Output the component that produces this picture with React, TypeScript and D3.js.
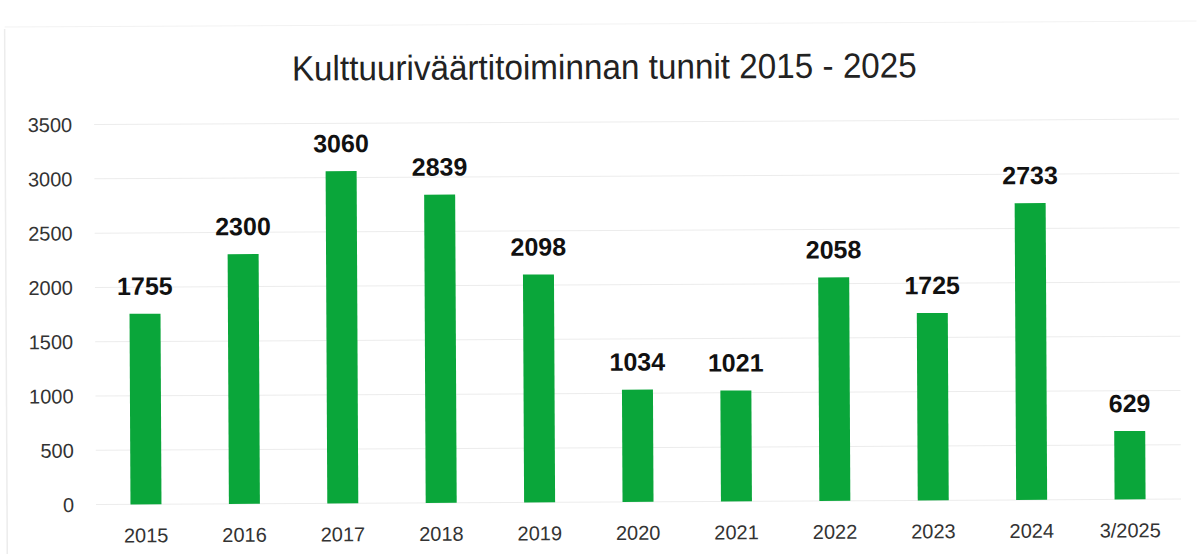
import React from "react";
import * as d3 from "d3";

const categories = ["2015", "2016", "2017", "2018", "2019", "2020", "2021", "2022", "2023", "2024", "3/2025"];
const values = [1755, 2300, 3060, 2839, 2098, 1034, 1021, 2058, 1725, 2733, 629];
const yTicks = [0, 500, 1000, 1500, 2000, 2500, 3000, 3500];
const title = "Kulttuuriväärtitoiminnan tunnit 2015 - 2025";

export default function App() {
  const W = 1198, H = 554;
  const x = d3.scaleBand<string>().domain(categories).range([96, 1178]).paddingInner(0.685).paddingOuter(0.34);
  const y = d3.scaleLinear().domain([0, 3500]).range([502, 122]);
  return (
    <svg width={W} height={H} style={{ position: "absolute", left: 0, top: 0, background: "#fff" }}>
      <rect x={0} y={0} width={W} height={H} fill="#fff" />
      <g transform="rotate(-0.29 600 300)">
        <line x1={6} y1={26} x2={6} y2={554} stroke="#ececec" strokeWidth={1.5} />
        <line x1={6} y1={24} x2={1198} y2={24} stroke="#f2f2f2" strokeWidth={1} />
        <text x={293} y={79} fontFamily="Liberation Sans, Arial, sans-serif" fontSize={35} fill="#222"
          textLength={625} lengthAdjust="spacingAndGlyphs">{title}</text>
        {yTicks.map((t) => (
          <g key={t}>
            <line x1={95} x2={1180} y1={y(t)} y2={y(t)} stroke="#ececec" strokeWidth={1} />
            <text x={73} y={y(t)} dy="0.36em" textAnchor="end" fontFamily="Liberation Sans, Arial, sans-serif"
              fontSize={20} fill="#333">{t}</text>
          </g>
        ))}
        {categories.map((c, i) => {
          const bx = x(c)!;
          const bw = x.bandwidth();
          return (
            <g key={c}>
              <rect x={bx} y={y(values[i])} width={bw} height={y(0) - y(values[i])} fill="#0aa63a" />
              <text x={bx + bw / 2} y={y(values[i]) - 19} textAnchor="middle" fontFamily="Liberation Sans, Arial, sans-serif"
                fontWeight="bold" fontSize={25} fill="#111">{values[i]}</text>
              <text x={bx + bw / 2} y={540} textAnchor="middle" fontFamily="Liberation Sans, Arial, sans-serif"
                fontSize={20} fill="#333">{c}</text>
            </g>
          );
        })}
      </g>
    </svg>
  );
}
